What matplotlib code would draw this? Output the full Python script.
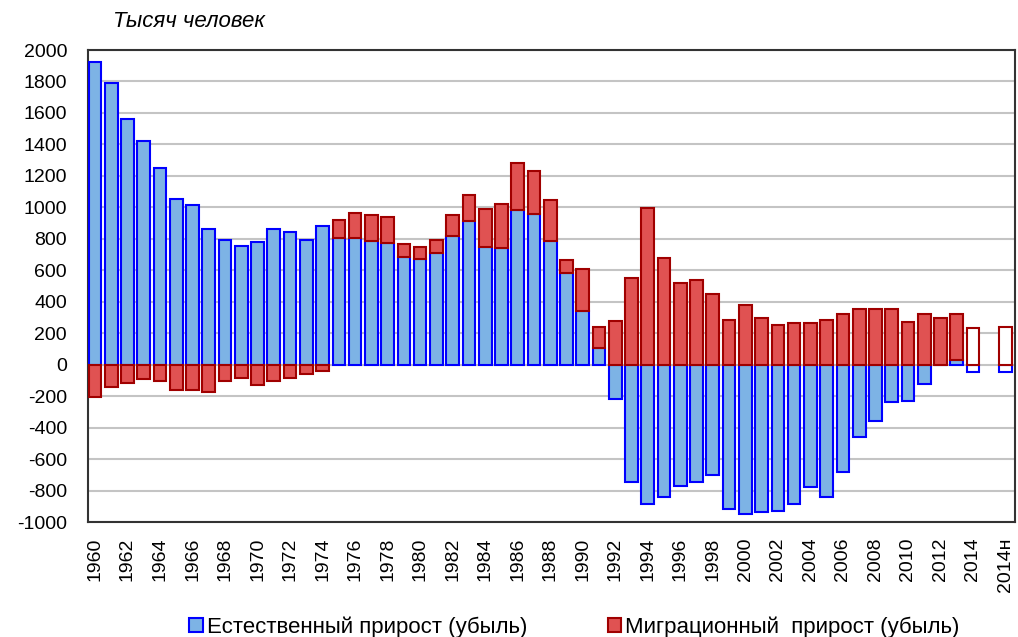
import numpy as np
import matplotlib.pyplot as plt
from matplotlib.patches import Patch

# -----------------------------
# Data (thousand people)
# -----------------------------
years = [str(y) for y in range(1960, 2015)] + ["", "2014н"]

natural = [1926, 1793, 1561, 1424, 1251, 1055, 1013, 861, 791, 755,
           780, 861, 846, 791, 882, 808, 808, 787, 776, 682,
           671, 707, 818, 913, 751, 741, 983, 958, 787, 582,
           340, 108, -217, -747, -884, -838, -768, -747, -701, -918,
           -949, -939, -932, -884, -780, -838, -679, -460, -356, -239,
           -230, -125, -5, 30, -46, np.nan, -46]

migration = [-207, -141, -116, -93, -105, -162, -162, -173, -103, -82,
             -131, -105, -82, -57, -38, 110, 154, 164, 165, 88,
             74, 86, 133, 165, 236, 282, 300, 270, 257, 83,
             268, 131, 277, 551, 998, 677, 517, 540, 447, 285,
             380, 297, 253, 264, 264, 287, 321, 354, 354, 354,
             274, 321, 297, 291, 232, np.nan, 242]

estimate = ["2014", "2014н"]  # drawn as hollow bars

# -----------------------------
# Plot
# -----------------------------
plt.rcParams['font.family'] = ['Liberation Sans', 'DejaVu Sans']

fig = plt.figure(figsize=(10.18, 6.37), dpi=100)
ax = fig.add_axes([0.0864, 0.1805, 0.9106, 0.741])

x = np.arange(len(years))
nat = np.array(natural, dtype=float)
mig = np.array(migration, dtype=float)
mig_bottom = np.where((nat > 0) & (mig > 0), nat, 0)

blue_fill = "#7db3e5"
red_fill = "#e05252"
nat_face = ["white" if y in estimate else blue_fill for y in years]
mig_face = ["white" if y in estimate else red_fill for y in years]

ax.bar(x, nat, width=0.78, color=nat_face, edgecolor="#0000ff", linewidth=1.5, zorder=3)
ax.bar(x, mig, width=0.78, bottom=mig_bottom, color=mig_face, edgecolor="#a00000",
       linewidth=1.5, zorder=3)

ax.set_xlim(-0.43, 56.58)
ax.set_ylim(-1000, 2000)
ax.set_yticks(np.arange(-1000, 2001, 200))
ax.set_yticklabels([str(v) for v in range(-1000, 2001, 200)], fontsize=14)

tick_pos = list(range(0, 55, 2)) + [56]
ax.set_xticks(tick_pos)
ax.set_xticklabels([years[i] for i in tick_pos], rotation=90, fontsize=14)
ax.tick_params(axis="y", length=0, pad=15)
ax.tick_params(axis="x", length=0, pad=11)

ax.grid(axis="y", color="#c4c4c4", linewidth=1.5, zorder=0)
ax.set_axisbelow(True)
for s in ax.spines.values():
    s.set_color("#333333")
    s.set_linewidth(1.5)

fig.text(0.111, 0.9655, "Тысяч человек", fontsize=16, style="italic", va="center")

handles = [Patch(facecolor=blue_fill, edgecolor="#0000ff", linewidth=1.5),
           Patch(facecolor=red_fill, edgecolor="#a00000", linewidth=1.5)]
fig.legend(handles, ["Естественный прирост (убыль)", "Миграционный  прирост (убыль)"],
           loc="center left", bbox_to_anchor=(0.186, 0.016), ncol=2, frameon=False,
           fontsize=16, handlelength=0.6, handleheight=0.6, handletextpad=0.2,
           columnspacing=3.6, borderpad=0, borderaxespad=0)

plt.savefig("out.png", dpi=100)
